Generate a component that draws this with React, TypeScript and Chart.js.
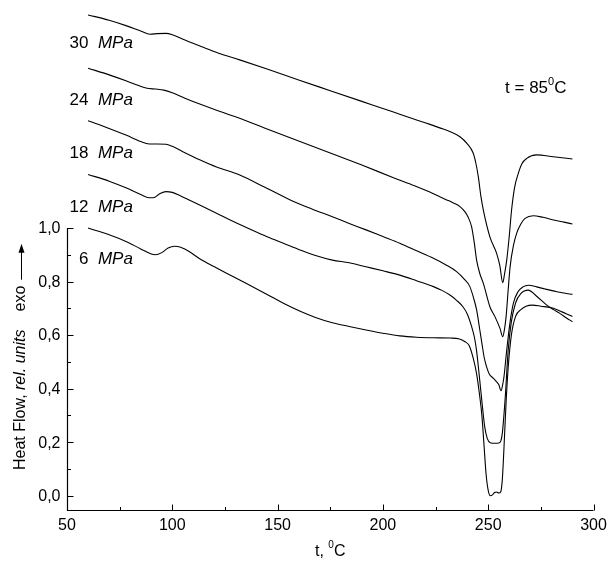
import React, { useEffect, useRef } from "react";
import { Chart, registerables } from "chart.js";

Chart.register(...registerables);

// ---- data (t in °C, heat flow in rel. units) ----
const T6 = [60,70,78,85,90,92,95,98,101,104,108,113,120,129,137,145,153,161,168,176,184,192,200,208,216,224,232,236,239,241,243,244.5,246,247,248,249,250,251,252,253,254,255,256,256.7,257.5,258.5,259.5,261,263,265.5,268,271,275,281,284,287,290];
const V6 = [1.0,0.975,0.95,0.922,0.903,0.9,0.908,0.925,0.932,0.928,0.912,0.885,0.855,0.818,0.785,0.752,0.718,0.688,0.666,0.646,0.632,0.619,0.607,0.597,0.592,0.59,0.589,0.586,0.575,0.56,0.51,0.455,0.37,0.3,0.19,0.08,0.02,0.0,0.003,0.012,0.014,0.01,0.016,0.06,0.18,0.35,0.48,0.6,0.67,0.695,0.708,0.712,0.708,0.7,0.69,0.68,0.669];

const T12 = [60,70,78,85,89,91,94,97,100,104,108,113,121,129,137,145,153,161,168,176,184,192,200,208,216,224,228,232,235,238,240,242,243.5,244.5,246,247.3,248.3,249.5,251,253,255,256,256.7,258,259.5,261,263,265.5,269,273,277.8,281,284,287,290];
const V12 = [1.2,1.175,1.15,1.125,1.113,1.113,1.128,1.136,1.133,1.12,1.105,1.086,1.055,1.024,0.995,0.967,0.942,0.917,0.897,0.88,0.87,0.855,0.84,0.824,0.803,0.781,0.767,0.749,0.73,0.706,0.68,0.635,0.59,0.54,0.43,0.33,0.26,0.215,0.198,0.196,0.197,0.205,0.233,0.357,0.544,0.65,0.72,0.755,0.768,0.745,0.712,0.695,0.681,0.665,0.65];

const T18 = [60,70,78,85,89,93,97,100,105,113,121,132,144,156,166,176,184,192,200,208,216,224,230,235,238.5,241.3,243,244.5,246,247,248,249.2,250.5,252.4,254,255,256.1,257,257.5,258.8,260.3,262,264,266.5,269.2,273,277,282.5,286,290];
const V18 = [1.401,1.372,1.347,1.323,1.314,1.314,1.313,1.305,1.285,1.255,1.228,1.198,1.152,1.105,1.072,1.042,1.017,0.993,0.968,0.943,0.915,0.887,0.862,0.837,0.81,0.781,0.74,0.694,0.62,0.57,0.52,0.482,0.455,0.439,0.425,0.415,0.392,0.42,0.445,0.544,0.644,0.72,0.76,0.78,0.786,0.78,0.772,0.762,0.757,0.752];

const T24 = [60,70,78,84,88,92,96,100,106,114,122,132,145,160,175,190,205,215,222,227,230.3,233,236.6,239,240.5,242.1,243.3,244.5,246,247.7,250.8,253.2,255.6,256.9,257.7,258.5,259.5,260.4,262,263.5,265.5,267.5,271.4,276,281,286,290];
const V24 = [1.597,1.572,1.55,1.532,1.522,1.519,1.515,1.505,1.485,1.46,1.437,1.41,1.37,1.325,1.28,1.235,1.188,1.158,1.135,1.117,1.105,1.095,1.08,1.06,1.04,1.005,0.95,0.88,0.83,0.793,0.706,0.669,0.625,0.594,0.62,0.669,0.77,0.855,0.935,0.98,1.015,1.036,1.046,1.04,1.03,1.022,1.015];

const T30 = [60,70,78,85,89.4,93,97,100,106,114,122,132,145,160,175,190,205,215,222,227,232,236.6,240,242.9,244.2,245.3,246.5,247.7,250.8,254,255.5,256.9,257.8,258.8,260,261.1,262.5,264.3,266,268.3,273,280.9,290];
const V30 = [1.796,1.776,1.756,1.736,1.724,1.726,1.727,1.722,1.702,1.677,1.653,1.628,1.594,1.553,1.513,1.473,1.433,1.406,1.388,1.374,1.36,1.341,1.315,1.279,1.24,1.192,1.12,1.067,0.967,0.905,0.86,0.796,0.83,0.88,0.97,1.067,1.15,1.204,1.24,1.26,1.273,1.266,1.258];

const SERIES_NAMES = ["6", "12", "18", "24", "30"];
const SERIES_T = [T6, T12, T18, T24, T30];
const SERIES_V = [V6, V12, V18, V24, V30];

// label anchors (data units): right edge of label at LABEL_T
const LABEL_T = 81.3;
const LABEL_V = [0.884, 1.078, 1.28, 1.478, 1.691];
const NOTE_T = 258.0;
const NOTE_V = 1.522;

const X_TICKS = [50, 100, 150, 200, 250, 300];
const X_MINOR = [75, 125, 175, 225, 275];
const Y_TICKS = [0, 0.2, 0.4, 0.6, 0.8, 1.0];
const Y_MINOR = [0.1, 0.3, 0.5, 0.7, 0.9];
const X_MIN = 50, X_MAX = 300;
const Y_MIN = -0.0534, Y_MAX = 1.8517;
const Y_AXIS_TOP = 1.0;

const FONT = '"Liberation Sans", Arial, Helvetica, sans-serif';

type Part = { text: string; italic?: boolean; size: number; dy?: number };

function drawParts(ctx: CanvasRenderingContext2D, parts: Part[], x: number, y: number, align: "left" | "right" | "center") {
  const widths = parts.map((p) => {
    ctx.font = `${p.italic ? "italic " : ""}${p.size}px ${FONT}`;
    return ctx.measureText(p.text).width;
  });
  const total = widths.reduce((a, b) => a + b, 0);
  let cx = align === "left" ? x : align === "right" ? x - total : x - total / 2;
  ctx.textAlign = "left";
  ctx.textBaseline = "middle";
  parts.forEach((p, i) => {
    ctx.font = `${p.italic ? "italic " : ""}${p.size}px ${FONT}`;
    ctx.fillText(p.text, cx, y + (p.dy || 0));
    cx += widths[i];
  });
  return total;
}

const axesPlugin = {
  id: "customAxes",
  afterDraw(chart: any) {
    const ctx: CanvasRenderingContext2D = chart.ctx;
    const xs = chart.scales.x;
    const ys = chart.scales.y;
    const area = chart.chartArea;
    ctx.save();
    ctx.strokeStyle = "#000";
    ctx.fillStyle = "#000";
    ctx.lineWidth = 1.2;
    const left = Math.round(area.left) + 0.5;
    const bottom = Math.round(area.bottom) + 0.5;
    const yTop = ys.getPixelForValue(Y_AXIS_TOP);
    ctx.beginPath();
    ctx.moveTo(left, yTop);
    ctx.lineTo(left, bottom);
    ctx.lineTo(xs.getPixelForValue(X_MAX), bottom);
    ctx.stroke();
    ctx.lineWidth = 1;
    ctx.beginPath();
    X_TICKS.forEach((t) => {
      const px = Math.round(xs.getPixelForValue(t)) + 0.5;
      ctx.moveTo(px, bottom);
      ctx.lineTo(px, bottom - 6);
    });
    X_MINOR.forEach((t) => {
      const px = Math.round(xs.getPixelForValue(t)) + 0.5;
      ctx.moveTo(px, bottom);
      ctx.lineTo(px, bottom - 3.5);
    });
    Y_TICKS.forEach((v) => {
      const py = Math.round(ys.getPixelForValue(v)) + 0.5;
      ctx.moveTo(left, py);
      ctx.lineTo(left + 6, py);
    });
    Y_MINOR.forEach((v) => {
      const py = Math.round(ys.getPixelForValue(v)) + 0.5;
      ctx.moveTo(left, py);
      ctx.lineTo(left + 3.5, py);
    });
    ctx.stroke();

    X_TICKS.forEach((t) => {
      drawParts(ctx, [{ text: String(t), size: 16 }], xs.getPixelForValue(t), bottom + 15, "center");
    });
    Y_TICKS.forEach((v) => {
      drawParts(ctx, [{ text: v.toFixed(1).replace(".", ","), size: 16 }], left - 7, ys.getPixelForValue(v) + 1, "right");
    });

    drawParts(
      ctx,
      [
        { text: "t, ", size: 16 },
        { text: "0", size: 10, dy: -6 },
        { text: "C", size: 16 },
      ],
      (area.left + area.right) / 2,
      bottom + 41,
      "center"
    );

    ctx.save();
    ctx.translate(21, 470);
    ctx.rotate(-Math.PI / 2);
    const w = drawParts(
      ctx,
      [
        { text: "Heat Flow, ", size: 16 },
        { text: "rel. units", italic: true, size: 16 },
      ],
      0,
      0,
      "left"
    );
    const exoStart = w + 18;
    const ew = drawParts(ctx, [{ text: "exo", size: 16 }], exoStart, 0, "left");
    const aStart = exoStart + ew + 6;
    const aEnd = aStart + 36;
    ctx.lineWidth = 1;
    ctx.beginPath();
    ctx.moveTo(aStart, 0.5);
    ctx.lineTo(aEnd - 6, 0.5);
    ctx.stroke();
    ctx.beginPath();
    ctx.moveTo(aEnd, 0.5);
    ctx.lineTo(aEnd - 9, -2.5);
    ctx.lineTo(aEnd - 9, 3.5);
    ctx.closePath();
    ctx.fill();
    ctx.restore();

    SERIES_NAMES.forEach((n, i) => {
      const px = xs.getPixelForValue(LABEL_T);
      const py = ys.getPixelForValue(LABEL_V[i]);
      drawParts(
        ctx,
        [
          { text: n + "  ", size: 17 },
          { text: "MPa", italic: true, size: 17 },
        ],
        px,
        py,
        "right"
      );
    });

    drawParts(
      ctx,
      [
        { text: "t = 85", size: 17 },
        { text: "0", size: 11, dy: -6 },
        { text: "C", size: 17 },
      ],
      xs.getPixelForValue(NOTE_T),
      ys.getPixelForValue(NOTE_V),
      "left"
    );
    ctx.restore();
  },
};

export default function App() {
  const ref = useRef<HTMLCanvasElement | null>(null);
  useEffect(() => {
    if (!ref.current) return;
    const datasets = SERIES_NAMES.map((n, i) => {
      const ts = SERIES_T[i];
      const vs = SERIES_V[i];
      const len = Math.min(ts.length, vs.length);
      const data = [];
      for (let k = 0; k < len; k++) data.push({ x: ts[k], y: vs[k] });
      return {
        label: n + " MPa",
        data,
        borderColor: "#000",
        borderWidth: 1.1,
        pointRadius: 0,
        fill: false,
        cubicInterpolationMode: "monotone" as const,
        clip: false as any,
      };
    });
    const chart = new Chart(ref.current, {
      type: "line",
      data: { datasets },
      options: {
        responsive: false,
        animation: false,
        devicePixelRatio: 1,
        layout: { padding: { left: 0, right: 14.5, top: 0, bottom: 0 } },
        plugins: { legend: { display: false }, tooltip: { enabled: false } },
        scales: {
          x: {
            type: "linear",
            min: X_MIN,
            max: X_MAX,
            ticks: { display: false },
            grid: { display: false, drawTicks: false },
            border: { display: false },
            afterFit: (s: any) => {
              s.height = 57;
            },
          },
          y: {
            type: "linear",
            min: Y_MIN,
            max: Y_MAX,
            ticks: { display: false },
            grid: { display: false, drawTicks: false },
            border: { display: false },
            afterFit: (s: any) => {
              s.width = 67;
            },
          },
        },
      },
      plugins: [axesPlugin],
    });
    return () => chart.destroy();
  }, []);
  return (
    <div style={{ position: "fixed", left: 0, top: 0, width: 608, height: 567, background: "#fff" }}>
      <canvas ref={ref} width={608} height={567} style={{ display: "block" }} />
    </div>
  );
}
